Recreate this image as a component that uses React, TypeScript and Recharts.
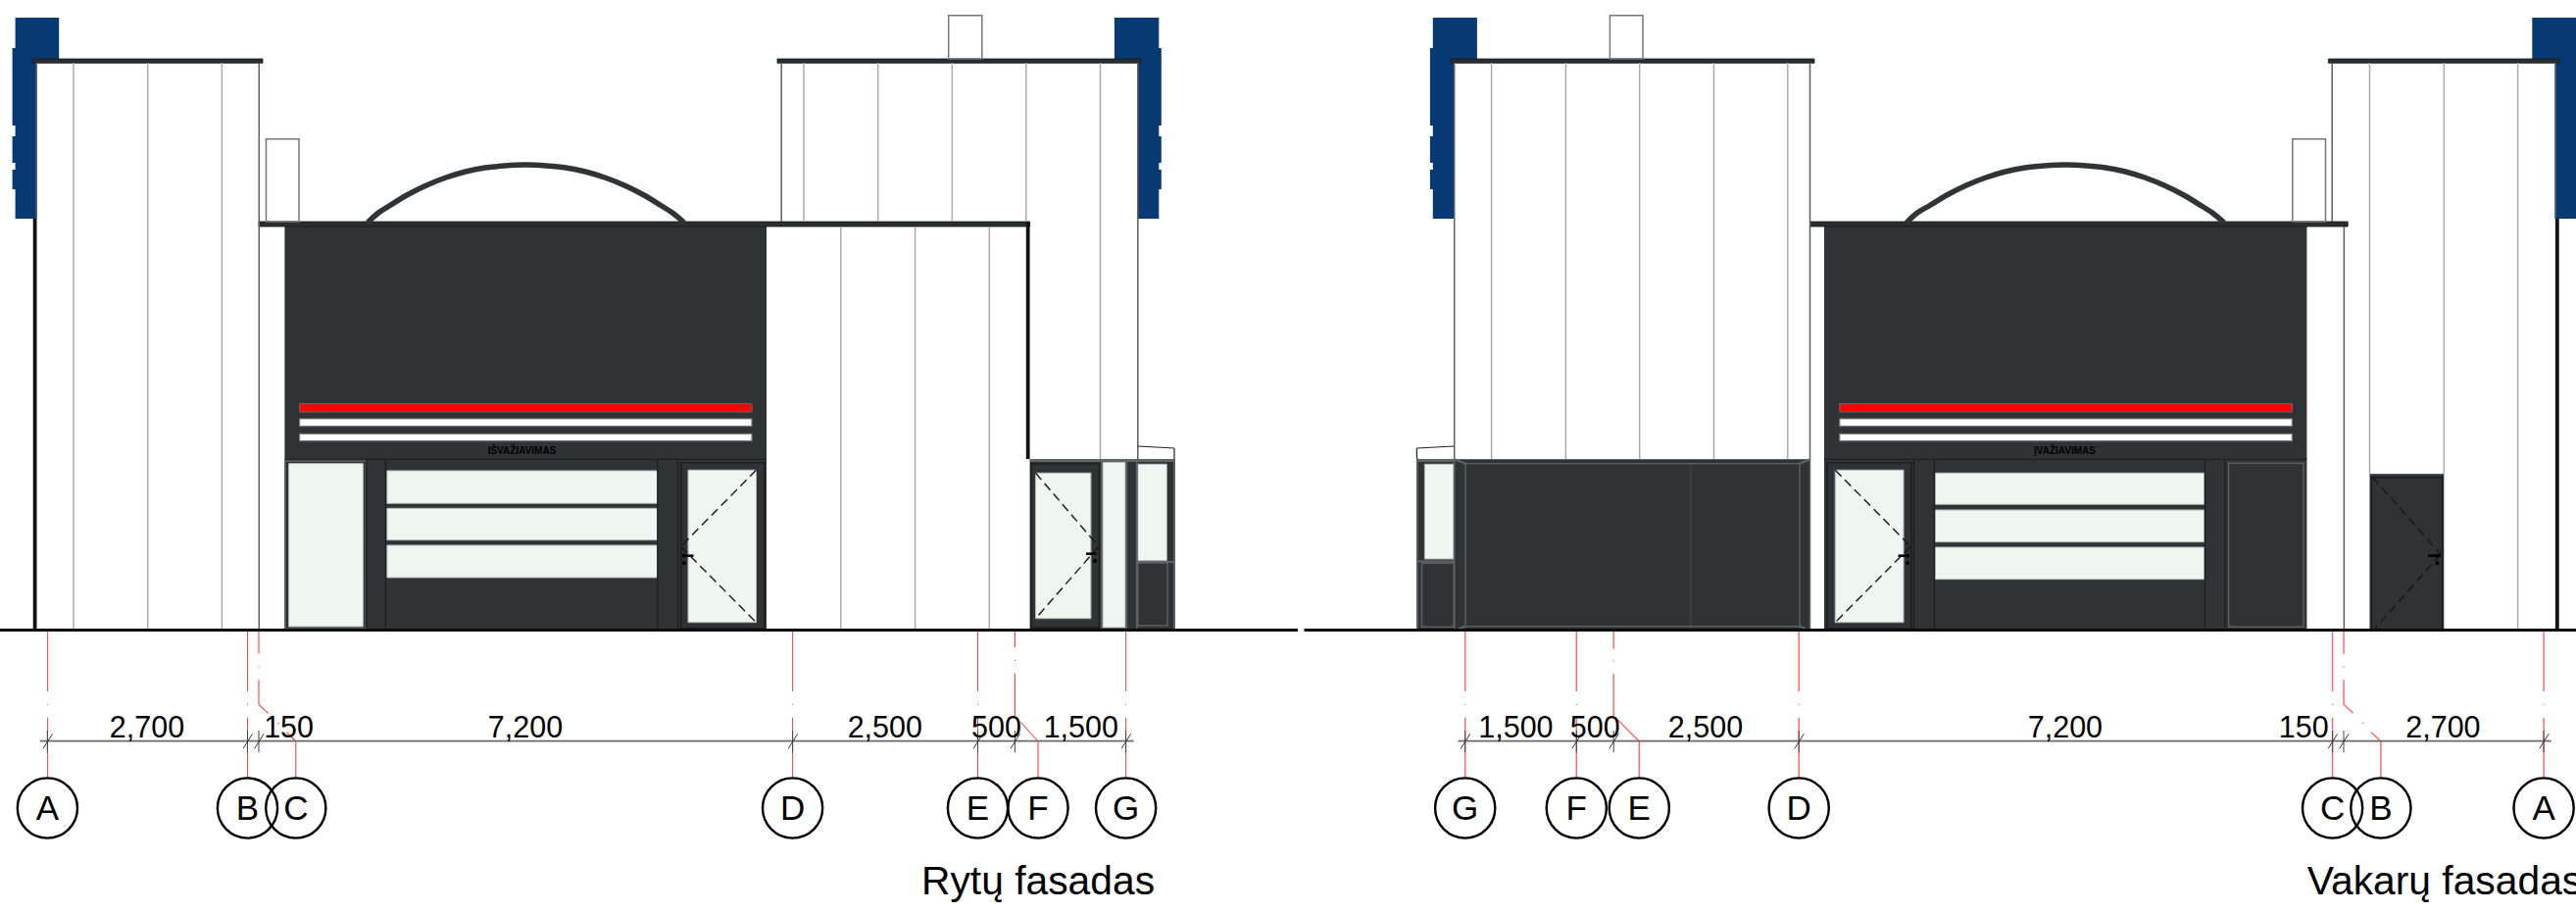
import { ComposedChart, Line, ReferenceArea, ReferenceDot, ReferenceLine, XAxis, YAxis } from 'recharts';

// all values are in sheet units (x to the right, y downwards)
const DARK = '#2f3336';
const BLUE = '#073a72';
const GLASS = '#eff5f1';
const FONT = '"Liberation Sans", Arial, sans-serif';

type Box = { x1: number; x2: number; y1: number; y2: number };
type Run = { x1: number; y1: number; x2: number; y2: number };
type Wall = { x: number; y1: number; y2: number };

const blueFins: Box[] = [
  { x1: 15.6, x2: 60.2, y1: 18, y2: 60 }, { x1: 15.6, x2: 37.5, y1: 60, y2: 223 },
  { x1: 12.6, x2: 16, y1: 49, y2: 128 }, { x1: 12.6, x2: 16, y1: 139, y2: 166 }, { x1: 12.6, x2: 16, y1: 173, y2: 193 },
  { x1: 1136.9, x2: 1182.3, y1: 18, y2: 60 }, { x1: 1160.8, x2: 1182.3, y1: 60, y2: 223 },
  { x1: 1182, x2: 1184.8, y1: 49, y2: 128 }, { x1: 1182, x2: 1184.8, y1: 139, y2: 166 }, { x1: 1182, x2: 1184.8, y1: 173, y2: 193 },
  { x1: 1461.8, x2: 1506.9, y1: 18, y2: 60 }, { x1: 1461.8, x2: 1483.5, y1: 60, y2: 223 },
  { x1: 1458.9, x2: 1462, y1: 49, y2: 128 }, { x1: 1458.9, x2: 1462, y1: 139, y2: 166 }, { x1: 1458.9, x2: 1462, y1: 173, y2: 193 },
  { x1: 2583.3, x2: 2628, y1: 18, y2: 60 }, { x1: 2607, x2: 2628, y1: 60, y2: 223 },
];

const darkPanels: Box[] = [
  { x1: 290.4, x2: 782, y1: 226, y2: 642 }, { x1: 1861, x2: 2353.4, y1: 226, y2: 642 },
  { x1: 1050.6, x2: 1198.7, y1: 468.3, y2: 642 }, { x1: 1445.4, x2: 1847, y1: 468.3, y2: 642 },
  { x1: 2417.5, x2: 2493.3, y1: 483.3, y2: 642 },
];

const roofBars: Box[] = [
  { x1: 33, x2: 268, y1: 60, y2: 64.3 }, { x1: 793, x2: 1163.8, y1: 60, y2: 64.3 },
  { x1: 1480, x2: 1851, y1: 60, y2: 64.3 }, { x1: 2375.4, x2: 2610.7, y1: 60, y2: 64.3 },
  { x1: 264, x2: 1050.6, y1: 226, y2: 231 }, { x1: 1846.5, x2: 2395.2, y1: 226, y2: 231 },
];

const chimneys: Box[] = [
  { x1: 271.5, x2: 305, y1: 141.7, y2: 226 }, { x1: 967.7, x2: 1001.8, y1: 15.7, y2: 60 },
  { x1: 1642.4, x2: 1676, y1: 15.7, y2: 60 }, { x1: 2338.8, x2: 2372.5, y1: 141.7, y2: 226 },
];

const redStripes: Box[] = [
  { x1: 305.6, x2: 767, y1: 411.7, y2: 420 }, { x1: 1876.8, x2: 2338.4, y1: 411.7, y2: 420 },
];
const whiteStripes: Box[] = [
  { x1: 305.6, x2: 767, y1: 427, y2: 434.7 }, { x1: 305.6, x2: 767, y1: 442.3, y2: 449.7 },
  { x1: 1876.8, x2: 2338.4, y1: 427, y2: 434.7 }, { x1: 1876.8, x2: 2338.4, y1: 442.3, y2: 449.7 },
];

const glassPanes: Box[] = [
  { x1: 294.6, x2: 370.4, y1: 472.7, y2: 639 },
  { x1: 394.8, x2: 670.5, y1: 480, y2: 513.3 }, { x1: 394.8, x2: 670.5, y1: 518.3, y2: 550.7 }, { x1: 394.8, x2: 670.5, y1: 556, y2: 589 },
  { x1: 702, x2: 771.5, y1: 479.3, y2: 634.7 }, { x1: 1056.5, x2: 1112.9, y1: 482.3, y2: 630.7 },
  { x1: 1125, x2: 1148, y1: 471.3, y2: 640 }, { x1: 1160.8, x2: 1190.3, y1: 473.3, y2: 571.7 },
  { x1: 1453.4, x2: 1483.3, y1: 473.3, y2: 570 }, { x1: 1872.2, x2: 1942, y1: 479.3, y2: 634.7 },
  { x1: 1974.5, x2: 2248.7, y1: 482.3, y2: 514.3 }, { x1: 1974.5, x2: 2248.7, y1: 520, y2: 552.7 }, { x1: 1974.5, x2: 2248.7, y1: 558, y2: 590.7 },
];

const greyFrames: Box[] = [
  { x1: 291, x2: 373, y1: 470, y2: 641 }, { x1: 1160.8, x2: 1191, y1: 574, y2: 638 },
  { x1: 1495, x2: 1836, y1: 472.7, y2: 638.7 }, { x1: 1450.5, x2: 1483.3, y1: 574.3, y2: 639.3 },
  { x1: 2273.6, x2: 2350, y1: 472.3, y2: 639.3 }, { x1: 1123.5, x2: 1149.5, y1: 470, y2: 641 },
];
const blackFrames: Box[] = [
  { x1: 695, x2: 780, y1: 471.7, y2: 641 }, { x1: 1864, x2: 1950, y1: 471.7, y2: 641 },
  { x1: 1052, x2: 1121.5, y1: 473, y2: 640 }, { x1: 2419.5, x2: 2491.5, y1: 487, y2: 642 },
];

const jointWalls: Wall[] = [
  { x: 264.3, y1: 64, y2: 642 }, { x: 797.2, y1: 64, y2: 226 }, { x: 1160.8, y1: 64, y2: 468 },
  { x: 1483.7, y1: 64, y2: 468 }, { x: 1846.5, y1: 64, y2: 642 }, { x: 2379.2, y1: 64, y2: 226 },
  { x: 2391.4, y1: 231, y2: 642 }, { x: 2606.9, y1: 64, y2: 223 }, { x: 37.2, y1: 64, y2: 223 },
];
const claddingJoints: Wall[] = [
  { x: 75, y1: 64, y2: 642 }, { x: 150.7, y1: 64, y2: 642 }, { x: 226.4, y1: 64, y2: 642 },
  { x: 820, y1: 64, y2: 226 }, { x: 895.7, y1: 64, y2: 226 }, { x: 971.4, y1: 64, y2: 226 }, { x: 1046.8, y1: 64, y2: 226 },
  { x: 857.8, y1: 231, y2: 642 }, { x: 933.6, y1: 231, y2: 642 }, { x: 1009.3, y1: 231, y2: 642 },
  { x: 1122.5, y1: 64, y2: 468 }, { x: 1521.6, y1: 64, y2: 468 }, { x: 1597.4, y1: 64, y2: 468 },
  { x: 1672.7, y1: 64, y2: 468 }, { x: 1748.5, y1: 64, y2: 468 }, { x: 1823.8, y1: 64, y2: 468 },
  { x: 2417.5, y1: 64, y2: 483 }, { x: 2493.3, y1: 64, y2: 483 }, { x: 2568.6, y1: 64, y2: 642 },
];
const heavyWalls: Wall[] = [
  { x: 35.6, y1: 223, y2: 642 }, { x: 1048.7, y1: 226, y2: 468 }, { x: 2608.8, y1: 223, y2: 642 },
];
const mullions: Wall[] = [
  { x: 373.7, y1: 468, y2: 642 }, { x: 393.5, y1: 468, y2: 642 }, { x: 670.8, y1: 468, y2: 642 }, { x: 691.6, y1: 468, y2: 642 },
  { x: 1952.6, y1: 468, y2: 642 }, { x: 1973.4, y1: 468, y2: 642 }, { x: 2249.5, y1: 468, y2: 642 }, { x: 2270, y1: 468, y2: 642 },
];
const greyEdges: Wall[] = [
  { x: 1198, y1: 467, y2: 641 }, { x: 1445.8, y1: 467, y2: 641 }, { x: 1159.8, y1: 468, y2: 641 },
  { x: 1483.6, y1: 468, y2: 641 },
];
const faintJoints: Wall[] = [{ x: 1724.9, y1: 473, y2: 638 }];

const greyRuns: Run[] = [
  { x1: 1050.6, y1: 470, x2: 1198, y2: 470 }, { x1: 1445.4, y1: 470, x2: 1483.5, y2: 470 },
  { x1: 1160, y1: 573, x2: 1198, y2: 573 }, { x1: 1445.4, y1: 572.5, x2: 1483.5, y2: 572.5 },
  { x1: 1484, y1: 468.3, x2: 1495, y2: 472.7 }, { x1: 1847, y1: 468.3, x2: 1836, y2: 472.7 },
  { x1: 1488, y1: 641, x2: 1495, y2: 638.7 }, { x1: 1842, y1: 641, x2: 1836, y2: 638.7 },
];
const darkRuns: Run[] = [
  { x1: 290.4, y1: 468.3, x2: 782, y2: 468.3 }, { x1: 1861, y1: 468.3, x2: 2353.4, y2: 468.3 },
];
const canopyRuns: Run[] = [
  { x1: 1160.8, y1: 455, x2: 1198, y2: 457 }, { x1: 1198, y1: 457, x2: 1198, y2: 467 },
  { x1: 1483.3, y1: 455, x2: 1445.4, y2: 457 }, { x1: 1445.4, y1: 457, x2: 1445.4, y2: 467 },
];
const groundRuns: Run[] = [
  { x1: 0, y1: 642.5, x2: 1324, y2: 642.5 }, { x1: 1330.5, y1: 642.5, x2: 2628, y2: 642.5 },
];
const doorSwings: Run[] = [
  { x1: 771.5, y1: 479.3, x2: 694.5, y2: 557.3 }, { x1: 694.5, y1: 557.3, x2: 771.5, y2: 634.7 },
  { x1: 1056.5, y1: 482.3, x2: 1120.8, y2: 557.3 }, { x1: 1120.8, y1: 557.3, x2: 1056.5, y2: 630.7 },
  { x1: 1872.2, y1: 479.3, x2: 1949.2, y2: 557.3 }, { x1: 1949.2, y1: 557.3, x2: 1872.2, y2: 634.7 },
  { x1: 2420.4, y1: 486.7, x2: 2490, y2: 565 }, { x1: 2490, y1: 565, x2: 2422.5, y2: 641.7 },
];
const doorHandles: Run[] = [
  { x1: 696, y1: 566.7, x2: 707.5, y2: 566.7 }, { x1: 1108, y1: 564.7, x2: 1118.8, y2: 564.7 },
  { x1: 1936.6, y1: 566.7, x2: 1947, y2: 566.7 }, { x1: 2477, y1: 566.7, x2: 2490, y2: 566.7 },
];
const handleKnobs = [
  { x: 698, y: 566.7 }, { x: 698, y: 574.3 }, { x: 1117, y: 572 }, { x: 1946, y: 566.7 }, { x: 1946, y: 574.3 }, { x: 2486.5, y: 566.7 }, { x: 2486.5, y: 574.3 },
];

const archEast = [
  { x: 375, y: 227 }, { x: 386, y: 217 }, { x: 397, y: 210 }, { x: 415, y: 199 }, { x: 435, y: 189 }, { x: 455, y: 181 }, { x: 475, y: 175 }, { x: 495, y: 171 }, { x: 515, y: 169 }, { x: 536, y: 168 },
  { x: 557, y: 169 }, { x: 577, y: 171 }, { x: 597, y: 175 }, { x: 617, y: 181 }, { x: 637, y: 189 }, { x: 657, y: 199 }, { x: 675, y: 210 }, { x: 686, y: 217 }, { x: 698, y: 227 },
];
const archWest = [
  { x: 1945, y: 227 }, { x: 1956, y: 217 }, { x: 1968, y: 210 }, { x: 1986, y: 199 }, { x: 2006, y: 189 }, { x: 2026, y: 181 }, { x: 2046, y: 175 }, { x: 2066, y: 171 }, { x: 2086, y: 169 }, { x: 2107, y: 168 },
  { x: 2128, y: 169 }, { x: 2148, y: 171 }, { x: 2168, y: 175 }, { x: 2188, y: 181 }, { x: 2208, y: 189 }, { x: 2228, y: 199 }, { x: 2246, y: 210 }, { x: 2257, y: 217 }, { x: 2269, y: 227 },
];

// grid axes: the ones that drop straight and the ones that jog to reach their bubble
const straightAxesEast = [48.4, 252.5, 808.6, 997.5, 1148.6];
const straightAxesWest = [1494.7, 1608.3, 1835.2, 2379.6, 2595.1];
const axisDashes = [{ y1: 644, y2: 705 }, { y1: 717.8, y2: 718.8 }, { y1: 731.7, y2: 792.7 }];
const joggedAxesEast: Run[] = [
  { x1: 264, y1: 644, x2: 264, y2: 666.7 }, { x1: 264, y1: 679.5, x2: 264, y2: 680.5 }, { x1: 264, y1: 693.3, x2: 264, y2: 718.3 },
  { x1: 264, y1: 718.3, x2: 273.6, y2: 727.3 }, { x1: 283.5, y1: 737, x2: 284.5, y2: 738 }, { x1: 292.5, y1: 746.7, x2: 301.8, y2: 756 }, { x1: 301.8, y1: 756, x2: 301.8, y2: 792.7 },
  { x1: 1035.4, y1: 644, x2: 1035.4, y2: 660 }, { x1: 1035.4, y1: 673, x2: 1035.4, y2: 674 }, { x1: 1035.4, y1: 686.7, x2: 1035.4, y2: 730 },
  { x1: 1041, y1: 736, x2: 1059, y2: 756 }, { x1: 1059, y1: 756, x2: 1059, y2: 792.7 },
];
const joggedAxesWest: Run[] = [
  { x1: 1646.2, y1: 644, x2: 1646.2, y2: 661.7 }, { x1: 1646.2, y1: 673.5, x2: 1646.2, y2: 674.5 }, { x1: 1646.2, y1: 687.3, x2: 1646.2, y2: 730 },
  { x1: 1650.4, y1: 734, x2: 1672.3, y2: 756 }, { x1: 1672.3, y1: 756, x2: 1672.3, y2: 792.7 },
  { x1: 2391, y1: 644, x2: 2391, y2: 666.7 }, { x1: 2391, y1: 679.5, x2: 2391, y2: 680.5 }, { x1: 2391, y1: 693.3, x2: 2391, y2: 718.3 },
  { x1: 2391, y1: 718.3, x2: 2400.7, y2: 727.3 }, { x1: 2410.3, y1: 737, x2: 2411.3, y2: 738 }, { x1: 2419.2, y1: 746.7, x2: 2428.9, y2: 756 }, { x1: 2428.9, y1: 756, x2: 2428.9, y2: 792.7 },
];

const dimensionLines: Run[] = [
  { x1: 40.8, y1: 755.6, x2: 1156.6, y2: 755.6 }, { x1: 1487.5, y1: 755.6, x2: 2602.7, y2: 755.6 },
];
const dimensionTicks = [48.4, 252.5, 264, 808.6, 997.5, 1035.4, 1148.6, 1494.7, 1608.3, 1646.2, 1835.2, 2379.6, 2391, 2595.1];
const dimensionLabels = [
  { x: 150, label: '2,700' }, { x: 294.6, label: '150' }, { x: 536, label: '7,200' }, { x: 902.8, label: '2,500' },
  { x: 1016.5, label: '500' }, { x: 1102.8, label: '1,500' }, { x: 1546.4, label: '1,500' }, { x: 1627.2, label: '500' },
  { x: 1740, label: '2,500' }, { x: 2106.9, label: '7,200' }, { x: 2350.2, label: '150' }, { x: 2492.4, label: '2,700' },
];
const gridBubbles = [
  { x: 48.4, label: 'A' }, { x: 252.5, label: 'B' }, { x: 301.8, label: 'C' }, { x: 808.6, label: 'D' },
  { x: 997.5, label: 'E' }, { x: 1059, label: 'F' }, { x: 1148.6, label: 'G' },
  { x: 1494.7, label: 'G' }, { x: 1608.3, label: 'F' }, { x: 1672.3, label: 'E' }, { x: 1835.2, label: 'D' },
  { x: 2379.6, label: 'C' }, { x: 2428.9, label: 'B' }, { x: 2595.1, label: 'A' },
];
const signs = [{ x: 532.5, label: 'IŠVAŽIAVIMAS' }, { x: 2106.5, label: 'ĮVAŽIAVIMAS' }];
const titles = [{ x: 1059, label: 'Rytų fasadas' }, { x: 2494, label: 'Vakarų fasadas' }];

function boxes(name: string, list: Box[], fill: string, stroke = 'none', strokeWidth = 0) {
  return list.map((b, i) => (
    <ReferenceArea key={`${name}-${i}`} x1={b.x1} x2={b.x2} y1={b.y1} y2={b.y2} fill={fill} fillOpacity={1} stroke={stroke} strokeWidth={strokeWidth} ifOverflow="visible" />
  ));
}

function runs(name: string, list: Run[], stroke: string, strokeWidth: number, dash?: string) {
  return list.map((r, i) => (
    <ReferenceLine key={`${name}-${i}`} segment={[{ x: r.x1, y: r.y1 }, { x: r.x2, y: r.y2 }]} stroke={stroke} strokeWidth={strokeWidth} strokeDasharray={dash} ifOverflow="visible" />
  ));
}

const walls = (list: Wall[]): Run[] => list.map((w) => ({ x1: w.x, y1: w.y1, x2: w.x, y2: w.y2 }));
const axes = (xs: number[]): Run[] => xs.flatMap((x) => axisDashes.map((d) => ({ x1: x, y1: d.y1, x2: x, y2: d.y2 })));

function text(name: string, list: { x: number; label: string }[], y: number, fontSize: number, fill = '#000', fontWeight = 400) {
  return list.map((t, i) => (
    <ReferenceDot
      key={`${name}-${i}`}
      x={t.x}
      y={y}
      r={0}
      fill="none"
      stroke="none"
      ifOverflow="visible"
      label={{ value: t.label, position: 'center', fill, fontSize, fontFamily: FONT, fontWeight }}
    />
  ));
}

export default function App() {
  return (
    <div style={{ position: 'absolute', left: 0, top: 0, width: 2628, height: 931, background: '#fff', overflow: 'hidden' }}>
      <ComposedChart width={2628} height={931} margin={{ top: 0, right: 0, bottom: 0, left: 0 }}>
        <XAxis hide type="number" dataKey="x" domain={[0, 2628]} allowDataOverflow />
        <YAxis hide type="number" domain={[0, 931]} reversed allowDataOverflow />

        {boxes('blue', blueFins, BLUE)}
        {boxes('dark', darkPanels, DARK)}
        {boxes('roof', roofBars, '#2b2e31', '#17191a', 0.8)}
        {boxes('chimney', chimneys, 'none', '#777', 1.5)}
        {boxes('red', redStripes, '#ff0000', '#6a6a6a', 1)}
        {boxes('white', whiteStripes, '#ffffff', '#777', 1.2)}
        {boxes('glass', glassPanes, GLASS, '#b5b8b6', 1)}
        {boxes('greyframe', greyFrames, 'none', '#5c5f61', 1.5)}
        {boxes('blackframe', blackFrames, 'none', '#1c1e20', 1.6)}

        {runs('cladding', walls(claddingJoints), '#ababab', 1.5)}
        {runs('joints', walls(jointWalls), '#5f5f5f', 1.5)}
        {runs('heavy', walls(heavyWalls), '#111', 3.8)}
        {runs('mullions', walls(mullions), '#1c1e20', 1.3)}
        {runs('greyedges', walls(greyEdges), '#5f6264', 1.8)}
        {runs('faint', walls(faintJoints), '#45484a', 1)}
        {runs('greyruns', greyRuns, '#626567', 2)}
        {runs('darkruns', darkRuns, '#1f2123', 1.3)}
        {runs('canopy', canopyRuns, '#222', 1.2)}
        {runs('ground', groundRuns, '#0c0c0c', 3.2)}
        {runs('swing', doorSwings, '#15171a', 1.4, '9 5')}
        {runs('handle', doorHandles, '#000', 2.6)}
        {handleKnobs.map((k, i) => (
          <ReferenceDot key={`knob-${i}`} x={k.x} y={k.y} r={2} fill="#000" stroke="none" ifOverflow="visible" />
        ))}

        <Line data={archEast} dataKey="y" type="monotone" stroke="#303437" strokeWidth={5.5} dot={false} activeDot={false} isAnimationActive={false} />
        <Line data={archWest} dataKey="y" type="monotone" stroke="#303437" strokeWidth={5.5} dot={false} activeDot={false} isAnimationActive={false} />

        {runs('axisE', axes(straightAxesEast), '#ff4040', 1)}
        {runs('jogE', joggedAxesEast, '#ff4040', 1.1)}
        {runs('axisW', axes(straightAxesWest), '#ff6a6a', 1.5)}
        {runs('jogW', joggedAxesWest, '#ff6a6a', 1.5)}
        {runs('dim', dimensionLines, '#6a6a6a', 1.8)}
        {runs('tick', dimensionTicks.map((x) => ({ x1: x, y1: 745, x2: x, y2: 767.3 })), '#444', 1)}
        {runs('slash', dimensionTicks.map((x) => ({ x1: x - 4.4, y1: 763.3, x2: x + 5.1, y2: 748.3 })), '#333', 1)}

        {gridBubbles.map((b, i) => (
          <ReferenceDot
            key={`bubble-${i}`}
            x={b.x}
            y={824}
            r={30.6}
            fill="none"
            stroke="#000"
            strokeWidth={2.4}
            ifOverflow="visible"
            label={{ value: b.label, position: 'center', fill: '#000', fontSize: 35, fontFamily: FONT }}
          />
        ))}
        {text('dimtext', dimensionLabels, 741, 30.5)}
        {text('sign', signs, 459, 10, '#000', 700)}
        {text('title', titles, 898, 40.8)}
      </ComposedChart>
    </div>
  );
}
